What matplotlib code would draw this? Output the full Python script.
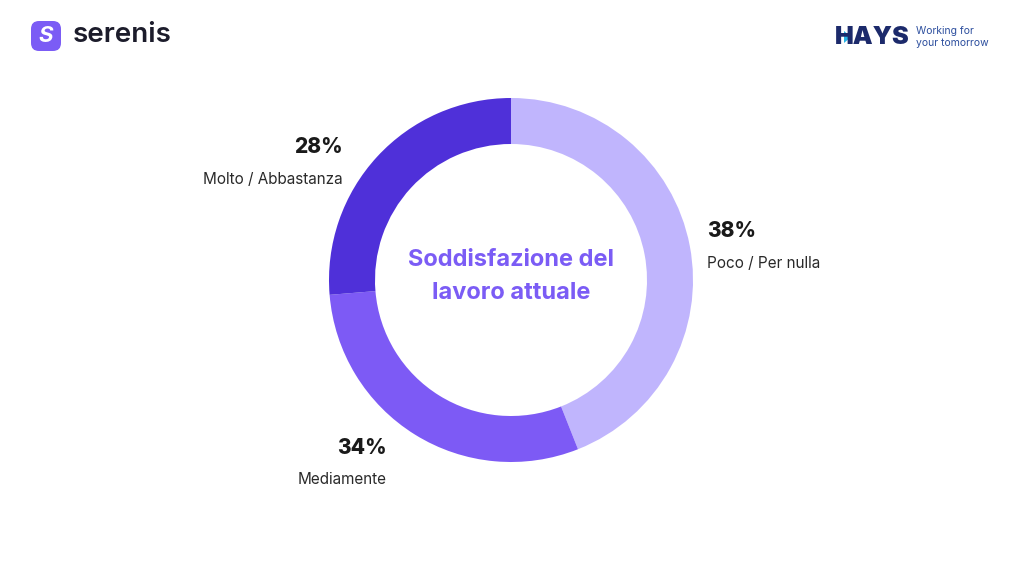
import matplotlib.pyplot as plt
from matplotlib.patches import FancyBboxPatch, Polygon

# wedge sizes as drawn in the picture, and the printed labels
shares = [44.0, 29.7, 26.3]
pct_labels = ['38%', '34%', '28%']
cat_labels = ['Poco / Per nulla', 'Mediamente', 'Molto / Abbastanza']
colors = ['#c0b5fd', '#7d5af5', '#4f30d9']
title_lines = ['Soddisfazione del', 'lavoro attuale']

W, H = 1024, 576
fig = plt.figure(figsize=(W / 100, H / 100), dpi=100)
ax = fig.add_axes([0, 0, 1, 1])

cx, cy = 511, H - 280
R = 182
ax.pie(shares, colors=colors, startangle=90, counterclock=False,
       center=(cx, cy), radius=R, frame=True,
       wedgeprops=dict(width=46, linewidth=0))
ax.set_xlim(0, W)
ax.set_ylim(0, H)
ax.set_aspect('equal')
ax.axis('off')

fam = ['Inter', 'DejaVu Sans']
dark = '#1a1a1a'

# label positions (image px): x, y of pct, y of category, alignment
spots = [(707, 231, 264, 'left'),
         (387, 448, 479, 'right'),
         (343, 147, 180, 'right')]
for (x, yp, yc, ha), p, c in zip(spots, pct_labels, cat_labels):
    ax.text(x, H - yp, p, ha=ha, va='center', fontsize=15,
            fontweight='heavy', color=dark, family=fam)
    ax.text(x, H - yc, c, ha=ha, va='center', fontsize=11,
            color='#2a2a2a', family=fam)

# centre title
for i, line in enumerate(title_lines):
    ax.text(cx, H - (260 + 33 * i), line, ha='center', va='center',
            fontsize=17, fontweight='bold', color='#7b5cf5', family=fam)

# serenis logo
ax.add_patch(FancyBboxPatch((31, H - 51), 30, 30,
                            boxstyle='round,pad=0,rounding_size=8',
                            fc='#7b5cf5', ec='none'))
ax.text(46, H - 36, 'S', ha='center', va='center', fontsize=16,
        fontweight='bold', color='white', family=fam, style='italic')
ax.text(73, H - 35, 'serenis', ha='left', va='center', fontsize=20,
        fontweight='semibold', color='#1c1c2b', family=fam)

# HAYS logo
ax.text(835, H - 37, 'HAYS', ha='left', va='center', fontsize=18,
        fontweight='black', color='#1c2a6b', family=fam)
ax.add_patch(Polygon([[844, H - 31], [844, H - 43], [851, H - 37]],
                     closed=True, fc='#27b3e6', ec='none'))
ax.text(916, H - 31, 'Working for', ha='left', va='center', fontsize=7.5,
        color='#2d4f9e', family=fam)
ax.text(916, H - 43, 'your tomorrow', ha='left', va='center', fontsize=7.5,
        color='#2d4f9e', family=fam)

fig.savefig('out.png', dpi=100, facecolor='white')
